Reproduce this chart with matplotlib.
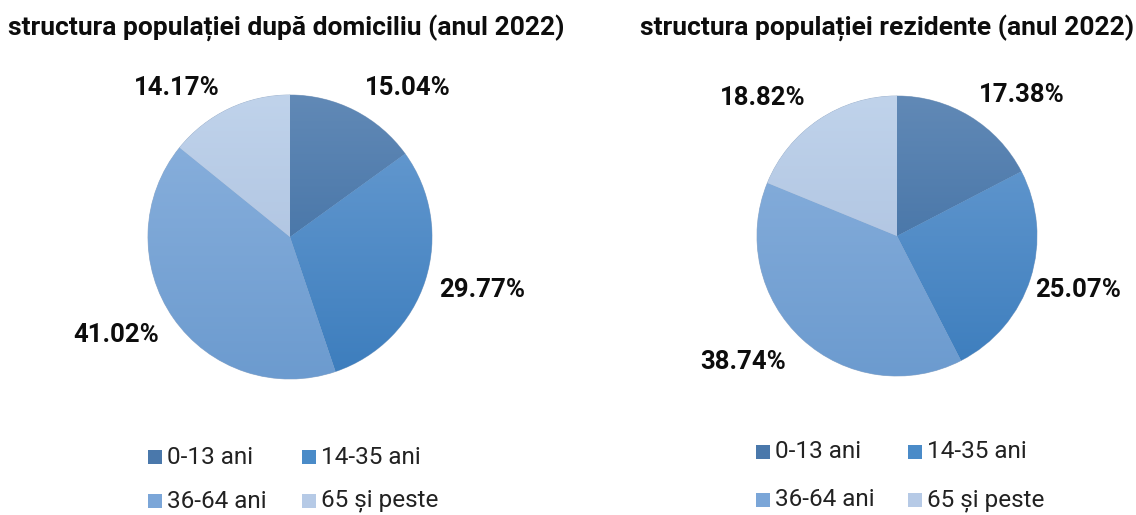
import matplotlib.pyplot as plt
import numpy as np
from matplotlib.colors import LinearSegmentedColormap
from matplotlib.patches import Rectangle

plt.rcParams["font.family"] = ["Roboto", "DejaVu Sans"]

W, H = 1136, 515

categories = ["0-13 ani", "14-35 ani", "36-64 ani", "65 și peste"]
domiciliu = [15.04, 29.77, 41.02, 14.17]
rezidente = [17.38, 25.07, 38.74, 18.82]
titles = [
    "structura populației după domiciliu (anul 2022)",
    "structura populației rezidente (anul 2022)",
]

# colour at top / bottom of each slice gradient, plus a flat one for the legend
TOP = ["#6189b6", "#6a9dd2", "#8cb2de", "#c0d3eb"]
BOTTOM = ["#35679d", "#3c7dbd", "#6c9bcf", "#a5bbdb"]
FLAT = ["#4a78ab", "#4a8bc8", "#7ba6d8", "#b6cae6"]

# pie layout in pixels (y measured from the top)
PIES = [
    dict(cx=290, cy=237, r=142,
         labels=[(408, 88), (482, 290), (116, 335), (177, 88)],
         title_x=286, legend_x=(148, 302), legend_y=(457, 501)),
    dict(cx=897, cy=236, r=140,
         labels=[(1022, 95), (1078, 290), (743, 362), (763, 98)],
         title_x=887, legend_x=(756, 908), legend_y=(452, 500)),
]

fig = plt.figure(figsize=(W / 100, H / 100), dpi=100)
ax = fig.add_axes([0, 0, 1, 1])

grad = np.linspace(0, 1, 256).reshape(-1, 1)

for values, title, p in zip([domiciliu, rezidente], titles, PIES):
    cx, cy, r = p["cx"], H - p["cy"], p["r"]
    wedges, _ = ax.pie(values, colors=FLAT, startangle=90, counterclock=False,
                       center=(cx, cy), radius=r, frame=True,
                       wedgeprops=dict(linewidth=0.6, edgecolor="#9fb3cc"))
    for w, top, bot in zip(wedges, TOP, BOTTOM):
        cmap = LinearSegmentedColormap.from_list("", [bot, top])
        im = ax.imshow(grad, cmap=cmap, origin="lower", aspect="auto",
                       extent=(cx - r, cx + r, cy - r, cy + r), zorder=w.get_zorder())
        im.set_clip_path(w)

    for v, (lx, ly) in zip(values, p["labels"]):
        ax.text(lx, H - ly, f"{v:.2f}%", ha="center", va="center",
                fontsize=18.5, fontweight="bold", color="#0d0d0d")

    ax.text(p["title_x"], H - 28, title, ha="center", va="center",
            fontsize=19, fontweight="bold", color="#0d0d0d")

    # legend: 2 x 2 grid of square markers
    for i, (cat, col) in enumerate(zip(categories, FLAT)):
        lx = p["legend_x"][i % 2]
        ly = H - p["legend_y"][i // 2]
        ax.add_patch(Rectangle((lx, ly - 7), 14, 14, facecolor=col, edgecolor="none"))
        ax.text(lx + 19, ly, cat, ha="left", va="center", fontsize=17.5, color="#222222")

ax.set_xlim(0, W)
ax.set_ylim(0, H)
ax.set_aspect("auto")
ax.axis("off")

fig.savefig("out.png", dpi=100)
